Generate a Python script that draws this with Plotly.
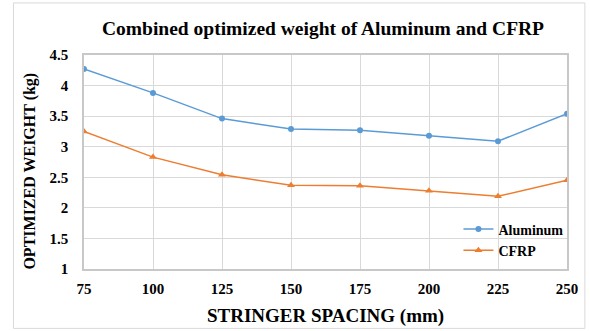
import plotly.graph_objects as go

spacing = [75, 100, 125, 150, 175, 200, 225, 250]
aluminum = [4.27, 3.88, 3.46, 3.29, 3.27, 3.18, 3.09, 3.54]
cfrp = [3.25, 2.83, 2.54, 2.37, 2.36, 2.28, 2.19, 2.45]

FONT = "Liberation Serif"

fig = go.Figure()
fig.add_trace(go.Scatter(x=spacing, y=aluminum, name="Aluminum", mode="lines+markers",
                         line=dict(color="#5B9BD5", width=1.5),
                         marker=dict(symbol="circle", size=6, color="#5B9BD5")))
fig.add_trace(go.Scatter(x=spacing, y=cfrp, name="CFRP", mode="lines+markers",
                         line=dict(color="#ED7D31", width=1.5),
                         marker=dict(symbol="triangle-up", size=7, color="#ED7D31")))

fig.update_layout(
    width=590, height=331,
    margin=dict(l=84, r=20, t=55, b=62),
    paper_bgcolor="white", plot_bgcolor="white",
    font=dict(family=FONT, color="black"),
    showlegend=True,
    legend=dict(x=1.003, y=0.012, xanchor="right", yanchor="bottom",
                bgcolor="rgba(0,0,0,0)", font=dict(size=14, family=FONT, weight="bold"),
                itemwidth=30, tracegroupgap=0),
    xaxis=dict(range=[75, 250], dtick=25, tick0=75, showgrid=True, gridcolor="#d9d9d9",
               showline=True, linecolor="#c8c8c8", linewidth=1.5, mirror=True,
               zeroline=False, ticks="", ticklabelstandoff=5,
               tickfont=dict(size=15, family=FONT, weight="bold")),
    yaxis=dict(range=[1, 4.5], dtick=0.5, showgrid=True, gridcolor="#d9d9d9",
               showline=True, linecolor="#c8c8c8", linewidth=1.5, mirror=True,
               zeroline=False, ticks="", ticklabelstandoff=11,
               tickfont=dict(size=15, family=FONT, weight="bold")),
    annotations=[
        dict(text="Combined optimized weight of Aluminum and CFRP", xref="paper", yref="paper",
             x=0.495, y=1.125, xanchor="center", yanchor="middle", showarrow=False,
             font=dict(size=19.5, family=FONT, weight="bold")),
        dict(text="STRINGER SPACING (mm)", xref="paper", yref="paper",
             x=0.5, y=-0.22, xanchor="center", yanchor="middle", showarrow=False,
             font=dict(size=19, family=FONT, weight="bold")),
        dict(text="OPTIMIZED WEIGHT (kg)", xref="paper", yref="paper",
             x=-0.111, y=0.457, xanchor="center", yanchor="middle", showarrow=False,
             textangle=-90, font=dict(size=16, family=FONT, weight="bold")),
    ],
    shapes=[dict(type="rect", xref="paper", yref="paper",
                 x0=(13 - 84) / 486, x1=(588 - 84) / 486,
                 y0=(268.7 - 328) / 213.7, y1=(268.7 - 3) / 213.7,
                 line=dict(color="#d9d9d9", width=1), layer="below")],
)

fig.write_html("out.html")
